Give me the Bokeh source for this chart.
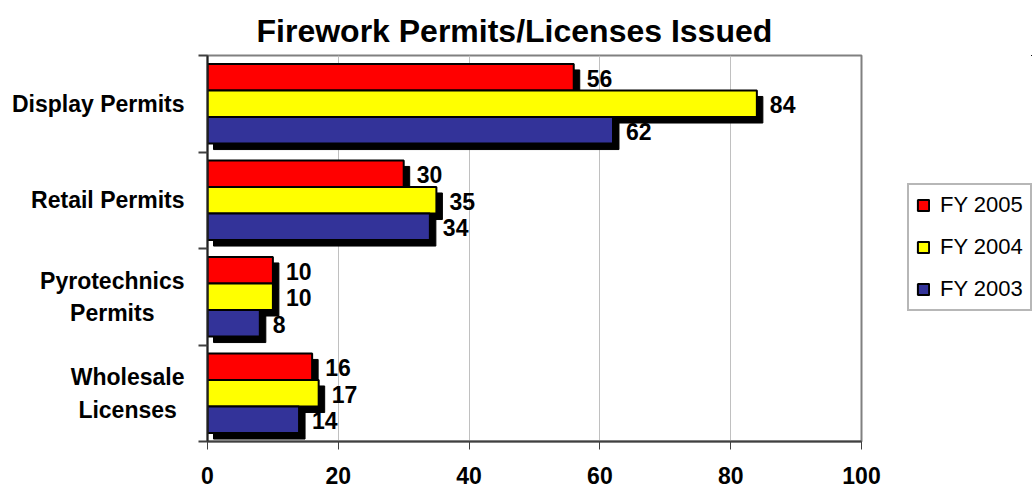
from bokeh.plotting import figure
from bokeh.models import (ColumnDataSource, Range1d, FixedTicker, Legend, LegendItem, Title)
from bokeh.layouts import row
from bokeh.core.properties import value
from bokeh.embed import file_html
from bokeh.resources import INLINE

categories = ["Display Permits", "Retail Permits", "Pyrotechnics Permits", "Wholesale Licenses"]
category_labels = ["Display Permits", "Retail Permits", "Pyrotechnics\nPermits", "Wholesale\nLicenses"]
fy2005 = [56, 30, 10, 16]
fy2004 = [84, 35, 10, 17]
fy2003 = [62, 34, 8, 14]
series_names = ["FY 2005", "FY 2004", "FY 2003"]
series_colors = ["#FF0000", "#FFFF00", "#333399"]
x_ticks = [0, 20, 40, 60, 80, 100]

FONT = "Liberation Sans"
W, H = 1032, 487
FL, FR, FT, FB = 207, 861, 55, 441
LEG_X, LEG_BOTTOM = 906, 311
TICK = 9
LABEL_RIGHT = 184
LABEL_PX = 23
fw, fh = FR - FL, FB - FT
XMAX = 100
n = len(categories)
ppx = fw / XMAX           # pixels per x unit
ppy = fh / n              # pixels per band
centers = [n - i - 0.5 for i in range(n)]

# approximate advance widths (Arial/Liberation Sans Bold, per 1000 em) for centring wrapped labels
_adv = {"P": 667, "y": 556, "r": 389, "o": 611, "t": 333, "e": 556, "c": 556, "h": 611,
        "n": 611, "i": 278, "s": 556, "W": 944, "l": 278, "a": 556, "L": 722, "m": 889,
        "D": 722, "p": 611, "R": 722, " ": 278}


def text_w(s):
    return sum(_adv.get(ch, 600) for ch in s) / 1000 * LABEL_PX


# ---------- left: category labels ----------
lw = FL - TICK
fl = figure(width=lw, height=H, output_backend="svg", toolbar_location=None,
            x_range=Range1d(0, lw), y_range=Range1d(0, n),
            x_axis_location=None, y_axis_location=None,
            min_border_left=0, min_border_right=0, min_border_top=FT, min_border_bottom=H - FB)
fl.outline_line_color = None
fl.grid.grid_line_color = None
fl.border_fill_color = "white"
fl.background_fill_color = "white"
single = [(c, t) for c, t in zip(centers, category_labels) if "\n" not in t]
multi = [(c, t) for c, t in zip(centers, category_labels) if "\n" in t]
src_single = ColumnDataSource(dict(x=[LABEL_RIGHT] * len(single), y=[c for c, _ in single],
                                   t=[t for _, t in single]))
src_multi = ColumnDataSource(dict(
    x=[LABEL_RIGHT - max(text_w(s) for s in t.split("\n")) / 2 for _, t in multi],
    y=[c for c, _ in multi], t=[t for _, t in multi]))
common = dict(text_baseline="middle", text_font=value(FONT), text_font_style="bold",
              text_font_size=f"{LABEL_PX}px", text_line_height=1.25, text_color="black")
fl.text(x="x", y="y", text="t", source=src_single, text_align="right", **common)
fl.text(x="x", y="y", text="t", source=src_multi, text_align="center", **common)

# ---------- main chart ----------
p = figure(width=LEG_X - lw, height=H, output_backend="svg", toolbar_location=None,
           x_range=Range1d(0, XMAX), y_range=Range1d(0, n),
           min_border_left=TICK, min_border_right=LEG_X - FR, min_border_top=FT,
           min_border_bottom=H - FB)
p.background_fill_color = "white"
p.border_fill_color = "white"
p.outline_line_color = "#808080"
p.outline_line_width = 2

bar_h = 0.275
dodges = [bar_h, 0.0, -bar_h]
sx = 6 / ppx
sy = 6 / ppy
series = [fy2005, fy2004, fy2003]

for vals, d in zip(series, dodges):
    src = ColumnDataSource(dict(y=[c + d - sy for c in centers], left=[sx] * n,
                                right=[v + sx for v in vals]))
    p.hbar(y="y", left="left", right="right", height=bar_h, source=src,
           fill_color="black", line_color="black")

bar_sources = []
for vals, d, col in zip(series, dodges, series_colors):
    src = ColumnDataSource(dict(y=[c + d for c in centers], right=vals,
                                lab=[str(v) for v in vals]))
    bar_sources.append(src)
    p.hbar(y="y", left=0, right="right", height=bar_h, source=src,
           fill_color=col, line_color="black", line_width=2)
    p.text(x="right", y="y", text="lab", source=src, x_offset=13, y_offset=1,
           text_font=value(FONT), text_font_style="bold", text_font_size="23px",
           text_baseline="middle", text_align="left", text_color="black")

p.xaxis.ticker = FixedTicker(ticks=x_ticks)
p.xaxis.axis_line_color = "#404040"
p.xaxis.axis_line_width = 2
p.xaxis.major_tick_line_color = "#404040"
p.xaxis.major_tick_in = 0
p.xaxis.major_tick_out = 8
p.xaxis.minor_tick_line_color = None
p.xaxis.major_label_text_font = FONT
p.xaxis.major_label_text_font_style = "bold"
p.xaxis.major_label_text_font_size = "23px"
p.xaxis.major_label_text_color = "black"
p.xaxis.major_label_standoff = 17

p.yaxis.ticker = FixedTicker(ticks=list(range(n + 1)))
p.yaxis.axis_line_color = "#202020"
p.yaxis.axis_line_width = 2
p.yaxis.major_tick_line_color = "#404040"
p.yaxis.major_tick_line_width = 2
p.yaxis.major_tick_in = 0
p.yaxis.major_tick_out = TICK
p.yaxis.minor_tick_line_color = None
p.yaxis.major_label_standoff = 0
p.yaxis.major_label_text_font_size = "0px"
p.yaxis.major_label_text_alpha = 0

p.ygrid.grid_line_color = None
p.xgrid.grid_line_color = "#C0C0C0"
p.xgrid.grid_line_width = 1

p.title = Title(text="Firework Permits/Licenses Issued", align="left", offset=256 - FL,
                text_font=FONT, text_font_style="bold", text_font_size="32px",
                text_color="black", standoff=13)

# ---------- right: legend ----------
rw = W - LEG_X
fr = figure(width=rw, height=H, output_backend="svg", toolbar_location=None,
            x_range=Range1d(-2, -1), y_range=Range1d(-2, -1),
            x_axis_location=None, y_axis_location=None,
            min_border_left=0, min_border_right=0, min_border_top=FT, min_border_bottom=H - FB)
fr.outline_line_color = None
fr.grid.grid_line_color = None
fr.border_fill_color = "white"
fr.background_fill_color = "white"
items = []
for src, col, name in zip(bar_sources, series_colors, series_names):
    r = fr.hbar(y="y", left=0, right="right", height=bar_h, source=src,
                fill_color=col, line_color="black", line_width=2)
    items.append(LegendItem(label=name, renderers=[r]))
legend = Legend(items=items, location=(1, FB - LEG_BOTTOM), orientation="vertical",
                label_text_font=FONT, label_text_font_size="22px", label_text_color="black",
                glyph_width=14, glyph_height=14, label_height=20, label_standoff=10,
                spacing=16, padding=7, margin=0,
                border_line_color="#707070", border_line_width=2,
                background_fill_color="white", background_fill_alpha=1)
fr.add_layout(legend, "center")

layout = row(fl, p, fr)
open("out.html", "w").write(file_html(layout, INLINE))
